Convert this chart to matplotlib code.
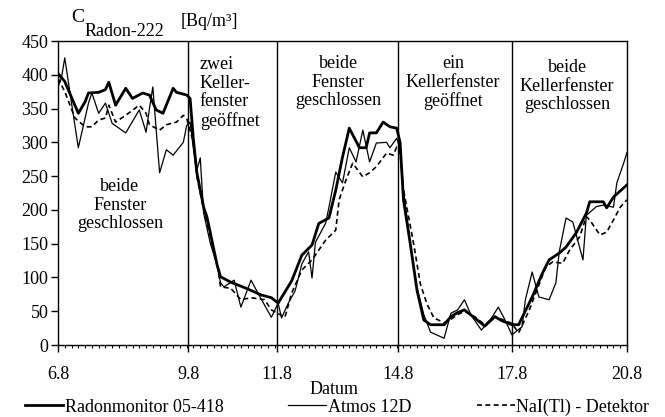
import numpy as np
import matplotlib
matplotlib.use("Agg")
import matplotlib.pyplot as plt
from matplotlib.ticker import MultipleLocator

# Messpunkte (2-h-Intervalle ab 6.8.)
radon_x = [0, 2, 6, 8, 9, 12, 14, 15, 17, 20, 22, 25, 27, 29, 31, 34, 35, 38, 39, 40,
           41, 43, 44, 47, 48, 51, 53, 56, 60, 63, 65, 69, 72, 75, 77, 80, 82, 84, 86, 89,
           91, 92, 94, 96, 98, 100, 101, 102, 104, 106, 108, 110, 114, 116, 118, 120, 123, 126, 129, 131,
           134, 136, 140, 143, 145, 148, 150, 153, 156, 157, 161, 162, 164, 168]
radon_y = [402, 390, 343, 360, 373, 374, 378, 389, 355, 380, 365, 373, 370, 348, 343, 380, 374, 370, 365, 303,
           255, 204, 189, 118, 101, 93, 89, 83, 74, 70, 62, 95, 133, 148, 180, 188, 229, 278, 321, 292,
           292, 314, 314, 330, 323, 321, 300, 215, 150, 81, 37, 30, 30, 42, 48, 52, 40, 28, 42, 36,
           30, 30, 71, 106, 126, 136, 145, 166, 195, 212, 212, 203, 219, 237]

atmos_x = [0, 1, 2, 4, 6, 9, 10, 12, 14, 16, 20, 24, 26, 27, 28, 29, 30, 32, 34, 37,
           38, 39, 40, 41, 42, 43, 45, 47, 48, 49, 52, 54, 57, 59, 63, 65, 66, 68, 70, 72,
           74, 75, 76, 79, 80, 82, 84, 86, 88, 90, 92, 94, 97, 98, 100, 101, 102, 104, 106, 108,
           110, 114, 116, 118, 120, 122, 125, 128, 130, 132, 134, 137, 138, 140, 142, 145, 147, 148, 150, 152,
           155, 156, 159, 161, 164, 165, 167, 168]
atmos_y = [382, 395, 425, 358, 292, 358, 373, 343, 358, 328, 314, 348, 315, 350, 382, 318, 255, 289, 281, 300,
           325, 330, 290, 259, 277, 195, 150, 117, 92, 86, 96, 56, 96, 77, 41, 62, 40, 62, 80, 120,
           138, 99, 152, 180, 204, 256, 240, 292, 271, 318, 271, 299, 300, 292, 306, 290, 230, 150, 85, 45,
           19, 10, 47, 52, 67, 44, 22, 40, 56, 37, 15, 27, 67, 108, 71, 67, 92, 138, 188, 182,
           126, 192, 205, 207, 204, 240, 269, 285]

nai_x = [0, 2, 5, 8, 10, 12, 14, 15, 17, 20, 24, 26, 27, 30, 32, 35, 37, 38, 40, 41,
         43, 45, 47, 48, 51, 54, 57, 61, 63, 67, 69, 72, 75, 79, 82, 83, 85, 87, 90, 92,
         94, 97, 99, 100, 101, 102, 105, 107, 109, 111, 114, 116, 118, 120, 123, 126, 129, 131, 134, 136,
         139, 144, 146, 149, 151, 154, 156, 157, 160, 162, 164, 166, 168]
nai_y = [395, 375, 336, 323, 323, 333, 336, 355, 330, 340, 355, 343, 326, 318, 326, 330, 340, 335, 300, 250,
         200, 160, 120, 86, 84, 67, 70, 67, 52, 41, 77, 111, 126, 155, 170, 215, 244, 269, 249, 255,
         264, 284, 281, 293, 285, 230, 150, 90, 60, 40, 33, 38, 45, 50, 42, 30, 42, 38, 32, 18,
         50, 115, 123, 121, 140, 160, 190, 185, 163, 167, 185, 204, 215]

tick_pos = [0, 38.4, 64.7, 100.4, 134.0, 168]
tick_lab = ['6.8', '9.8', '11.8', '14.8', '17.8', '20.8']
wechsel = [38.4, 64.7, 100.4, 134.0]

plt.rcParams['font.family'] = ['Liberation Serif', 'DejaVu Serif']

fig = plt.figure(figsize=(6.65, 4.17), dpi=100)
ax = fig.add_axes([58/665, 1-345/417, 569/665, 304/417])

l1, = ax.plot(radon_x, radon_y, color='black', lw=2.0)
l2, = ax.plot(atmos_x, atmos_y, color='black', lw=0.9)
l3, = ax.plot(nai_x, nai_y, color='black', lw=1.2, dashes=(3, 2))

for xv in wechsel:
    ax.axvline(xv, color='black', lw=1.0)

ax.set_xlim(0, 168)
ax.set_ylim(0, 450)
ax.set_yticks(np.arange(0, 451, 50))
ax.set_xticks(tick_pos)
ax.set_xticklabels(tick_lab)
ax.xaxis.set_minor_locator(MultipleLocator(2))
ax.tick_params(axis='y', direction='out', length=5, width=1, labelsize=13, pad=2)
ax.tick_params(axis='x', which='major', direction='out', length=5, width=1, labelsize=13, pad=10)
ax.tick_params(axis='x', which='minor', direction='out', length=2.5, width=0.8)
for s in ax.spines.values():
    s.set_linewidth(1.0)

fs = 13
ls = 1.12
ax.text(18.3, 207, 'beide\nFenster\ngeschlossen', ha='center', va='center', fontsize=fs, linespacing=ls)
ax.text(41.9, 373, 'zwei\nKeller-\nfenster\ngeöffnet', ha='left', va='center', fontsize=fs, linespacing=ls)
ax.text(82.7, 389, 'beide\nFenster\ngeschlossen', ha='center', va='center', fontsize=fs, linespacing=ls)
ax.text(116.6, 388, 'ein\nKellerfenster\ngeöffnet', ha='center', va='center', fontsize=fs, linespacing=ls)
ax.text(150.3, 383, 'beide\nKellerfenster\ngeschlossen', ha='center', va='center', fontsize=fs, linespacing=ls)

fig.text(71/665, 1-18/417, 'C', fontsize=14, va='center', ha='left')
fig.text(85/665, 1-31/417, 'Radon-222', fontsize=13, va='center', ha='left')
fig.text(181/665, 1-21/417, '[Bq/m³]', fontsize=13, va='center', ha='left')
fig.text(334/665, 1-389/417, 'Datum', fontsize=13, va='center', ha='center')

fig.legend([l1, l2, l3], ['Radonmonitor 05-418', 'Atmos 12D', 'NaI(Tl) - Detektor'],
           loc='center', bbox_to_anchor=(0.507, 1-407/417), ncol=3, frameon=False,
           fontsize=13, handlelength=2.1, handletextpad=0.1, columnspacing=3.6,
           borderaxespad=0)

fig.savefig('out.png', dpi=100)
